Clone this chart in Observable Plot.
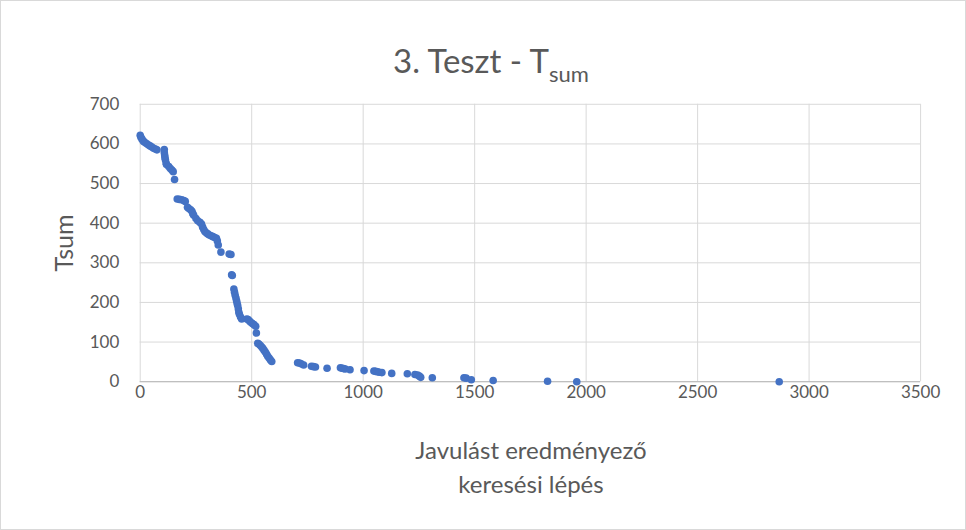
<!DOCTYPE html>
<html>
<head>
<meta charset="utf-8">
<script src="https://cdn.jsdelivr.net/npm/d3@7"></script>
<script src="https://cdn.jsdelivr.net/npm/@observablehq/plot@0.6"></script>
<style>
  html, body { margin: 0; padding: 0; background: #fff; }
  #wrap { position: relative; width: 966px; height: 530px; box-sizing: border-box; border: 1px solid #d9d9d9; overflow: hidden; font-family: Lato, "Open Sans", sans-serif; color: #595959; }
  #wrap svg { position: absolute; left: -1px; top: -1px; }
  .title { position: absolute; left: 7px; top: 39px; width: 966px; text-align: center; font-size: 33px; line-height: 40px; white-space: nowrap; }
  .title sub { font-size: 22px; vertical-align: -9px; line-height: 0; }
  .xlab { position: absolute; left: 280px; width: 500px; text-align: center; font-size: 24px; line-height: 29px; }
  .ylab { position: absolute; left: 62px; top: 242px; font-size: 25px; transform: translate(-50%, -50%) rotate(-90deg); white-space: nowrap; }
</style>
</head>
<body>
<div id="wrap">
  <div class="title">3. Teszt - T<sub>sum</sub></div>
  <div class="ylab">Tsum</div>
  <div class="xlab" style="top:434px">Javulást eredményező</div>
  <div class="xlab" style="top:468px">keresési lépés</div>
</div>
<script>
const xTicks = [0, 500, 1000, 1500, 2000, 2500, 3000, 3500];
const yTicks = [0, 100, 200, 300, 400, 500, 600, 700];

const steps = [
  0, 3, 8, 14, 20, 28, 36, 44, 52, 60, 68, 75,
  108, 108, 110, 111, 113, 116, 118, 128, 135, 142, 148, 154,
  166, 176, 186, 195, 202, 212, 218, 226, 232, 236, 240, 250, 258, 268, 275, 280, 285, 290, 296, 303, 310, 318, 326, 334, 342, 346, 350, 362,
  399, 407, 410, 413, 420, 423, 426, 429, 432, 434, 437, 440, 442, 445, 450, 455, 478, 484, 490, 496, 503, 510, 518, 521, 527, 532, 538, 544, 550, 556, 562, 567, 572, 578, 584, 590,
  706, 714, 722, 733, 768, 777, 786, 838, 898, 905, 912, 920, 941, 1004, 1048, 1056, 1064, 1072, 1084, 1128, 1198, 1232, 1244, 1252, 1258, 1310, 1452, 1462, 1485, 1583, 1827, 1958, 2866
];
const tsum = [
  622, 617, 612, 607, 604, 601, 598, 595, 592, 589, 587, 585,
  586, 578, 571, 565, 560, 552, 548, 543, 538, 534, 530, 510,
  461, 460, 459, 457, 455, 440, 437, 434, 430, 424, 420, 412, 406, 402, 398, 390, 384, 379, 376, 373, 370, 368, 366, 364, 362, 355, 345, 327,
  322, 321, 270, 268, 234, 226, 218, 212, 205, 199, 193, 184, 176, 170, 163, 158, 158, 157, 153, 150, 147, 144, 140, 123, 97, 95, 92, 88, 84, 79, 74, 69, 64, 60, 55, 51,
  48, 47, 45, 42, 39, 38, 37, 34, 35, 34, 33, 32, 30, 28, 27, 26, 25, 24, 23, 21, 20, 18, 17, 14, 11, 10, 10, 9, 5, 3, 1, 0, 0
];

const data = steps.map((s, i) => ({ x: s, y: tsum[i] }));

const chart = Plot.plot({
  width: 966,
  height: 530,
  marginLeft: 140,
  marginRight: 44,
  marginTop: 104,
  marginBottom: 148,
  style: { fontFamily: "Lato, 'Open Sans', sans-serif", fontSize: "17px", color: "#595959", background: "transparent" },
  x: { domain: [0, 3500] },
  y: { domain: [0, 700] },
  marks: [
    Plot.gridX(xTicks, { stroke: "#d9d9d9", strokeOpacity: 1, strokeWidth: 1 }),
    Plot.gridY(yTicks, { stroke: "#d9d9d9", strokeOpacity: 1, strokeWidth: 1 }),
    Plot.ruleY([0], { stroke: "#bfbfbf", strokeWidth: 1.3 }),
    Plot.axisX(xTicks, { tickSize: 0, tickPadding: 4, label: null, fontSize: 17, fill: "#595959", tickFormat: d => String(d) }),
    Plot.axisY(yTicks, { tickSize: 0, tickPadding: 21, label: null, fontSize: 17, fill: "#595959", tickFormat: d => String(d) }),
    Plot.dot(data, { x: "x", y: "y", r: 3.8, fill: "#4472C4", stroke: null })
  ]
});
document.getElementById("wrap").appendChild(chart);
</script>
</body>
</html>
